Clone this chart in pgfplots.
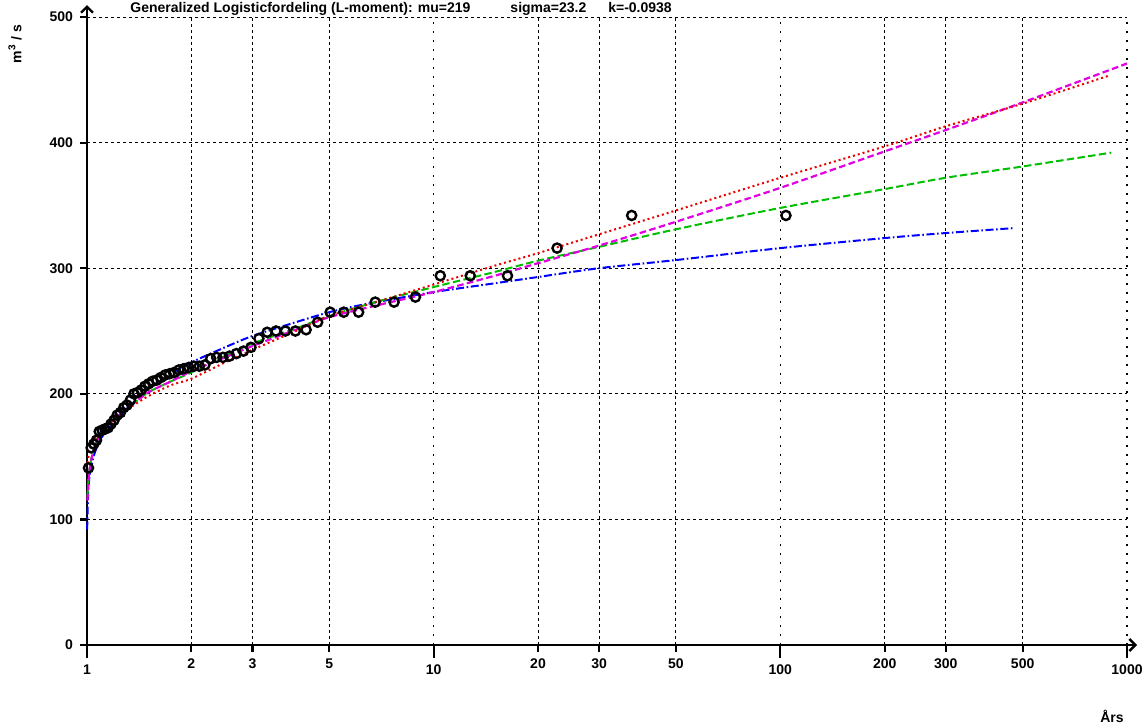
\documentclass[border=0pt]{standalone}
\usepackage{fontspec}
\setmainfont{Liberation Sans}
\usepackage{pgfplots}
\pgfplotsset{compat=1.18}
\usetikzlibrary{arrows.meta}
\definecolor{cred}{RGB}{235,0,0}
\definecolor{cgreen}{RGB}{0,190,0}
\definecolor{cblue}{RGB}{0,0,255}
\definecolor{cmag}{RGB}{225,0,225}
\newcommand\cf{\fontsize{7}{8}\selectfont\bfseries}
\begin{document}
\begin{tikzpicture}
\useasboundingbox (0pt,0pt) rectangle (574pt,-362pt);
\begin{axis}[
  at={(43.5pt,-322.5pt)}, anchor=south west,
  scale only axis, width=520pt, height=314pt,
  xmode=log, xmin=1, xmax=1000, ymin=0, ymax=500,
  axis lines*=left,
  clip=false,
  tick align=outside,
  major tick length=3.5pt,
  tick style={line width=1.1pt, black},
  xtick={2,3,5,20,30,50,200,300,500},
  xticklabels={2,3,5,20,30,50,200,300,500},
  extra x ticks={1,10,100,1000},
  extra x tick labels={1,10,100,1000},
  extra x tick style={major tick length=6.5pt,
     major grid style={black, line width=0.6pt, dash pattern=on 0.8pt off 3.7pt}},
  minor xtick={},
  ytick={0,100,200,300,400,500},
  xmajorgrids, ymajorgrids,
  major grid style={black, line width=0.5pt, dash pattern=on 1.5pt off 1.5pt},
  tick label style={font=\cf},
  /pgf/number format/assume math mode=true,
  axis line style={line width=1.2pt},
  x axis line style={-{Straight Barb[length=3pt,width=6pt]}, shorten >=-5pt},
  y axis line style={-{Straight Barb[length=3pt,width=6pt]}, shorten >=-6pt},
]
% blue dash-dot
\addplot[cblue, line width=1pt, smooth, dash pattern=on 4pt off 1.3pt on 0.8pt off 1.3pt] table {
1.001 92
1.005 112
1.01 125
1.02 137
1.05 152
1.1 165
1.2 177
1.33 191
1.5 204
1.75 216
2 225
2.5 237
3 246
4 257
5 265
6 270
7.5 275
10 281
15 288
20 293
30 300
50 306.5
100 316
200 324
300 328
475 332
};
% green dashed
\addplot[cgreen, line width=1pt, smooth, dash pattern=on 3.7pt off 1.7pt] table {
1.003 118
1.01 132
1.02 143
1.05 158
1.1 170
1.2 180
1.33 190
1.5 201
1.75 210
2 217
2.5 230
3 240
4 252
5 262
7 274
10 285
15 297
20 306
30 317
50 331
100 348
200 363
300 372
500 381
900 392
};
% magenta dashed
\addplot[cmag, line width=1.1pt, smooth, dash pattern=on 3.3pt off 1.7pt] table {
1.003 115
1.01 130
1.02 142
1.05 157
1.1 169
1.2 180
1.33 190
1.5 201
1.75 210
2 218
2.5 229
3 238
4 251
5 261
7 271
10 281
15 294
20 304
30 318
50 337
100 364
200 393
300 410
500 432
1000 463
};
% red dotted
\addplot[cred, line width=1pt, smooth, dash pattern=on 1pt off 1.5pt] table {
1.003 145
1.01 150
1.02 155
1.05 163
1.1 171
1.2 180
1.33 189
1.5 198
1.75 207
2 212
2.5 225
3 235
4 250
5 262
7 274
10 287
15 302
20 312
30 327
50 346
100 372
200 397
300 413
500 431
880 453
};
% observations
\addplot[only marks, mark=o, mark size=2.3pt, mark options={line width=1.2pt, black}] table {
103.79 342
37.26 342
22.70 316
16.33 294
12.75 294
10.45 294
8.860 277
7.688 273
6.782 273
6.075 265
5.504 265
5.028 265
4.627 257
4.286 251
3.992 250
3.735 250
3.510 250
3.310 249
3.132 244
2.971 237
2.827 234
2.696 232
2.576 230
2.467 229
2.366 229
2.274 228
2.188 223
2.109 222
2.035 222
1.966 221
1.902 220
1.842 219
1.785 217
1.732 216
1.682 215
1.634 213
1.590 211
1.547 210
1.507 208
1.469 206
1.433 203
1.398 201
1.366 200
1.334 195
1.304 191
1.276 189
1.248 185
1.222 183
1.197 179
1.173 176
1.150 173
1.127 172
1.106 171
1.085 170
1.065 163
1.046 160
1.028 157
1.010 141
};
\end{axis}
\node[anchor=base west, font=\cf, inner sep=0pt] at (65pt,-6.3pt) {Generalized Logisticfordeling (L-moment): mu=219\hspace{20pt}sigma=23.2\hspace{11pt}k=-0.0938};
\node[rotate=90, font=\cf, inner sep=0pt] at (7.5pt,-22pt) {m\textsuperscript{3} / s};
\node[font=\cf, inner sep=0pt] at (556pt,-358pt) {Års};
\end{tikzpicture}
\end{document}
